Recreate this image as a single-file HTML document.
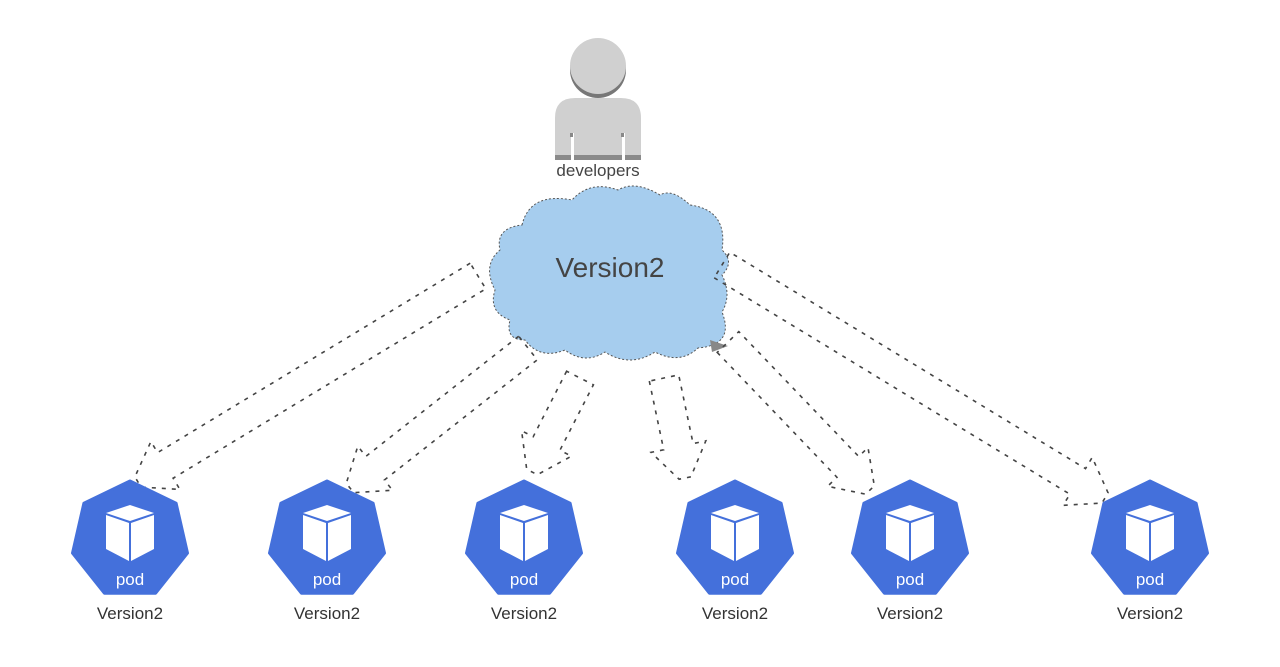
<!DOCTYPE html>
<html><head><meta charset="utf-8"><style>
html,body{margin:0;padding:0;background:#fff;width:1280px;height:667px;overflow:hidden}
svg{display:block}
text{font-family:"Liberation Sans",sans-serif}
</style></head><body>
<svg id="s" width="1280" height="667" viewBox="0 0 1280 667" xmlns="http://www.w3.org/2000/svg">
<!-- person -->
<circle cx="598" cy="70" r="28" fill="#777"/>
<circle cx="598" cy="66" r="28" fill="#d0d0d0"/>
<path d="M555,160 L555,118 Q555,98 575,98 L621,98 Q641,98 641,118 L641,160 Z" fill="#d0d0d0"/>
<rect x="555" y="155" width="86" height="5" fill="#8a8a8a"/>
<rect x="571" y="133" width="3" height="27" fill="#fff"/>
<rect x="622" y="133" width="3" height="27" fill="#fff"/>
<rect x="570" y="133" width="3" height="4" fill="#888"/>
<rect x="621" y="133" width="3" height="4" fill="#888"/>
<text x="598" y="176" font-size="17" fill="#444" text-anchor="middle">developers</text>
<!-- cloud -->
<path d="M522,225 Q530,192 572,200 Q590,180 618,190 Q635,180 660,195 Q672,188 690,205 Q728,210 722,250 Q735,262 722,275 Q732,295 722,312 Q735,345 698,348 Q680,365 655,352 Q630,368 605,352 Q585,365 565,350 Q540,360 525,340 Q505,340 510,320 Q488,312 495,290 Q482,265 500,250 Q495,228 522,225 Z" fill="#a6cdee" stroke="#555" stroke-width="1" stroke-dasharray="2,2"/>
<text x="610" y="277" font-size="28" fill="#444" text-anchor="middle">Version2</text>
<polygon points="710,340 728,346 712,352" fill="#888"/>
<g id="arrows" fill="none" stroke="#444" stroke-width="1.6" stroke-dasharray="4,6"></g>
<g id="pods"></g>
</svg>
<script>
var ns="http://www.w3.org/2000/svg";
var arrows=[[478,276,138,482],[528,348,350,488],[580,378,532,472],[664,378,685,478],[728,342,870,490],[722,265,1105,498]];
var g=document.getElementById('arrows');
arrows.forEach(function(a){
 var sx=a[0],sy=a[1],ex=a[2],ey=a[3];
 var dx=ex-sx,dy=ey-sy,L=Math.hypot(dx,dy);var ux=dx/L,uy=dy/L,px=-uy,py=ux;
 var w=15,hw=28,hl=32;
 var bx=ex-ux*hl,by=ey-uy*hl;
 var pts=[[sx+px*w,sy+py*w],[bx+px*w,by+py*w],[bx+px*hw,by+py*hw],[ex+px*6,ey+py*6],[ex-px*6,ey-py*6],[bx-px*hw,by-py*hw],[bx-px*w,by-py*w],[sx-px*w,sy-py*w]];
 var p=document.createElementNS(ns,'polygon');
 p.setAttribute('points',pts.map(function(q){return q[0].toFixed(1)+','+q[1].toFixed(1)}).join(' '));
 g.appendChild(p);
});
var pods=[130,327,524,735,910,1150];
var pg=document.getElementById('pods');
pods.forEach(function(cx){
 var cy=540,r=59,pts=[];
 for(var i=0;i<7;i++){var t=-Math.PI/2+i*2*Math.PI/7;pts.push((cx+r*Math.cos(t)).toFixed(1)+','+(cy+r*Math.sin(t)).toFixed(1));}
 var s='<polygon points="'+pts.join(' ')+'" fill="#4470db" stroke="#4470db" stroke-width="3" stroke-linejoin="round"/>';
 s+='<polygon points="'+(cx-24)+',513 '+cx+',505 '+(cx+24)+',513 '+cx+',521" fill="#fff"/>';
 s+='<polygon points="'+(cx-24)+',515 '+(cx-1)+',523 '+(cx-1)+',561 '+(cx-24)+',549" fill="#fff"/>';
 s+='<polygon points="'+(cx+24)+',515 '+(cx+1)+',523 '+(cx+1)+',561 '+(cx+24)+',549" fill="#fff"/>';
 s+='<text x="'+cx+'" y="585" font-size="17" fill="#fff" text-anchor="middle">pod</text>';
 s+='<text x="'+cx+'" y="619" font-size="17" fill="#333" text-anchor="middle">Version2</text>';
 pg.insertAdjacentHTML('beforeend',s);
});
</script>
</body></html>
